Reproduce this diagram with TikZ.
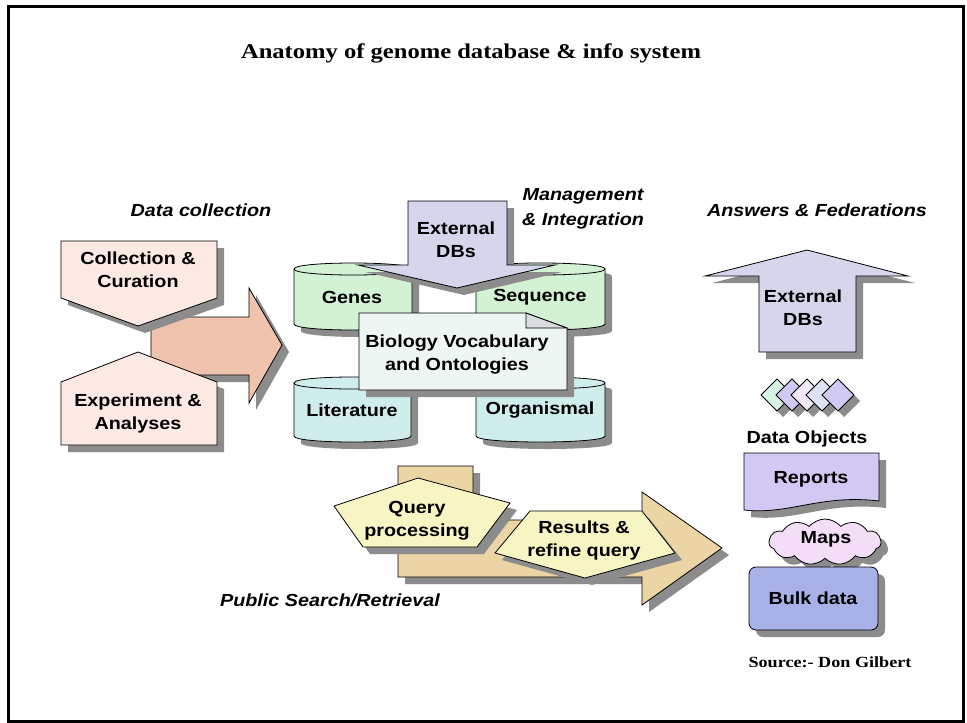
\documentclass[tikz,border=0pt]{standalone}
\usepackage{fontspec}
\setmainfont{Liberation Serif}[FakeStretch=1.17]
\setsansfont{Liberation Sans}[FakeStretch=1.13]
\usetikzlibrary{shadows,shapes.symbols}
\definecolor{pinkbox}{HTML}{FDE9E4}
\definecolor{salmon}{HTML}{EFC3AE}
\definecolor{lav}{HTML}{D5D5EC}
\definecolor{cylgreen}{HTML}{D3F1D3}
\definecolor{cylcyan}{HTML}{CFEDEB}
\definecolor{vocab}{HTML}{EEF6F4}
\definecolor{tanc}{HTML}{ECD5A5}
\definecolor{yel}{HTML}{F7F5C3}
\definecolor{rep}{HTML}{D3C8F3}
\definecolor{mapc}{HTML}{F4DDF6}
\definecolor{bulk}{HTML}{A9B2E8}
\definecolor{dA}{HTML}{D6F3E3}
\definecolor{dB}{HTML}{CFC9F3}
\definecolor{dC}{HTML}{F0E8F6}
\definecolor{dD}{HTML}{DCE3F5}
\definecolor{dE}{HTML}{D0C9F4}
\newcommand\mycyl[5]{%
  \path[shd,ol,fill=#5] (#1,#3) -- (#1,#4) .. controls (#1,#4+8) and (#2,#4+8) .. (#2,#4) -- (#2,#3) .. controls (#2,#3-8) and (#1,#3-8) .. (#1,#3) -- cycle;
  \draw[ol] (#1,#3) .. controls (#1,#3+8) and (#2,#3+8) .. (#2,#3);
}
\begin{document}
\begin{tikzpicture}[x=1pt,y=-1pt,
  shd/.style={drop shadow={shadow xshift=7pt,shadow yshift=-7pt,fill=black!45,opacity=1}},
  ol/.style={draw=black,line width=0.8pt},
  lbl/.style={font=\sffamily\bfseries\fontsize{17.5}{23}\selectfont,align=center,inner sep=0pt},
  hd/.style={font=\sffamily\bfseries\itshape\fontsize{17.5}{23}\selectfont,inner sep=0pt,anchor=base,align=center},
]
\useasboundingbox (0,0) rectangle (967,723);
\fill[white] (0,0) rectangle (967,723);
\draw[line width=2.5pt] (8.5,6.5) rectangle (963.5,721.5);

\node[font=\rmfamily\bfseries\fontsize{21}{25}\selectfont,inner sep=0pt,anchor=base] (title) at (471,58) {Anatomy of genome database \& info system};

% headings
\node[hd] (hdc) at (201,216) {Data collection};
\node[hd] (hmg) at (583,200) {Management};
\node[hd] (hmg2) at (583,225) {\& Integration};
\node[hd] (haf) at (817,216) {Answers \& Federations};
\node[hd] (hps) at (330,606) {Public Search/Retrieval};

% data collection
\path[shd,ol,fill=salmon] (151,317) -- (249,317) -- (249,288) -- (282,345) -- (249,403) -- (249,375) -- (151,375) -- cycle;
\path[shd,ol,fill=pinkbox] (61,241) -- (217,241) -- (217,298) -- (138,326) -- (61,298) -- cycle;
\path[shd,ol,fill=pinkbox] (61,382) -- (138,352) -- (217,382) -- (217,445) -- (61,445) -- cycle;
\node[lbl] (cc) at (138,270) {Collection \&\\Curation};
\node[lbl] (ea) at (138,413) {Experiment \&\\Analyses};

% management
\mycyl{294}{412}{269}{324}{cylgreen}
\mycyl{476}{605}{269}{324}{cylgreen}
\path[shd,ol,fill=lav] (408,201) -- (507,201) -- (507,265) -- (555,265) -- (457,288) -- (358,265) -- (408,265) -- cycle;
\mycyl{294}{411}{383}{436}{cylcyan}
\mycyl{476}{605}{383}{436}{cylcyan}
\path[shd,ol,fill=vocab] (359,313) -- (526,313) -- (567,328) -- (567,390) -- (359,390) -- cycle;
\path[ol,fill=vocab!80!gray] (526,313) -- (526,328) -- (567,328) -- cycle;
\node[lbl] (ext1) at (456,240) {External\\DBs};
\node[lbl] (genes) at (352,297) {Genes};
\node[lbl] (seq) at (540,297) {Sequence};
\node[lbl] (lit) at (352,410) {Literature};
\node[lbl] (org) at (540,410) {Organismal};
\node[lbl] (voc) at (457,355) {Biology Vocabulary\\and Ontologies};

% public search
\path[shd,ol,fill=tanc] (398,466) -- (473,466) -- (473,520) -- (642,520) -- (642,492) -- (722,548) -- (642,605) -- (642,577) -- (398,577) -- cycle;
\path[shd,ol,fill=yel] (334,506) -- (418,478) -- (510,503) -- (477,547) -- (363,547) -- cycle;
\path[shd,ol,fill=yel] (495,553) -- (530,511) -- (642,511) -- (675,553) -- (585,578) -- cycle;
\node[lbl] (qp) at (417,521) {Query\\processing};
\node[lbl] (rr) at (584,540) {Results \&\\refine query};

% answers
\path[shd,ol,fill=lav] (759,352) -- (759,276) -- (705,276) -- (807,250) -- (908,276) -- (856,276) -- (856,352) -- cycle;
\node[lbl] (ext2) at (803,308) {External\\DBs};
\foreach \cx/\col in {777/dA,792/dB,807/dC,822/dD,838/dE}
  \path[drop shadow={shadow xshift=6pt,shadow yshift=-6pt,fill=black!45,opacity=1},ol,fill=\col] (\cx-16,395) -- (\cx,379) -- (\cx+16,395) -- (\cx,411) -- cycle;
\node[font=\sffamily\bfseries\fontsize{17.5}{23}\selectfont,inner sep=0pt,anchor=base] (dobj) at (807,443) {Data Objects};
\path[shd,ol,fill=rep] (744,453) -- (879,453) -- (879,501) .. controls (820,494) and (790,515) .. (744,510) -- cycle;
\node[lbl] (reports) at (811,479) {Reports};
\node[cloud,cloud puffs=11,cloud puff arc=100,aspect=2.6,minimum width=112pt,minimum height=46pt,shd,ol,fill=mapc,inner sep=0pt] (mapcloud) at (825,542) {};
\node[lbl] (maps) at (826,539) {Maps};
\path[shd,ol,fill=bulk,rounded corners=7pt] (749,567) rectangle (878,630);
\node[lbl] (bulkd) at (813,598) {Bulk data};

\node[font=\rmfamily\bfseries\fontsize{15.5}{18}\selectfont,inner sep=0pt,anchor=base] (src) at (830,667) {Source:- Don Gilbert};
\end{tikzpicture}
\end{document}
